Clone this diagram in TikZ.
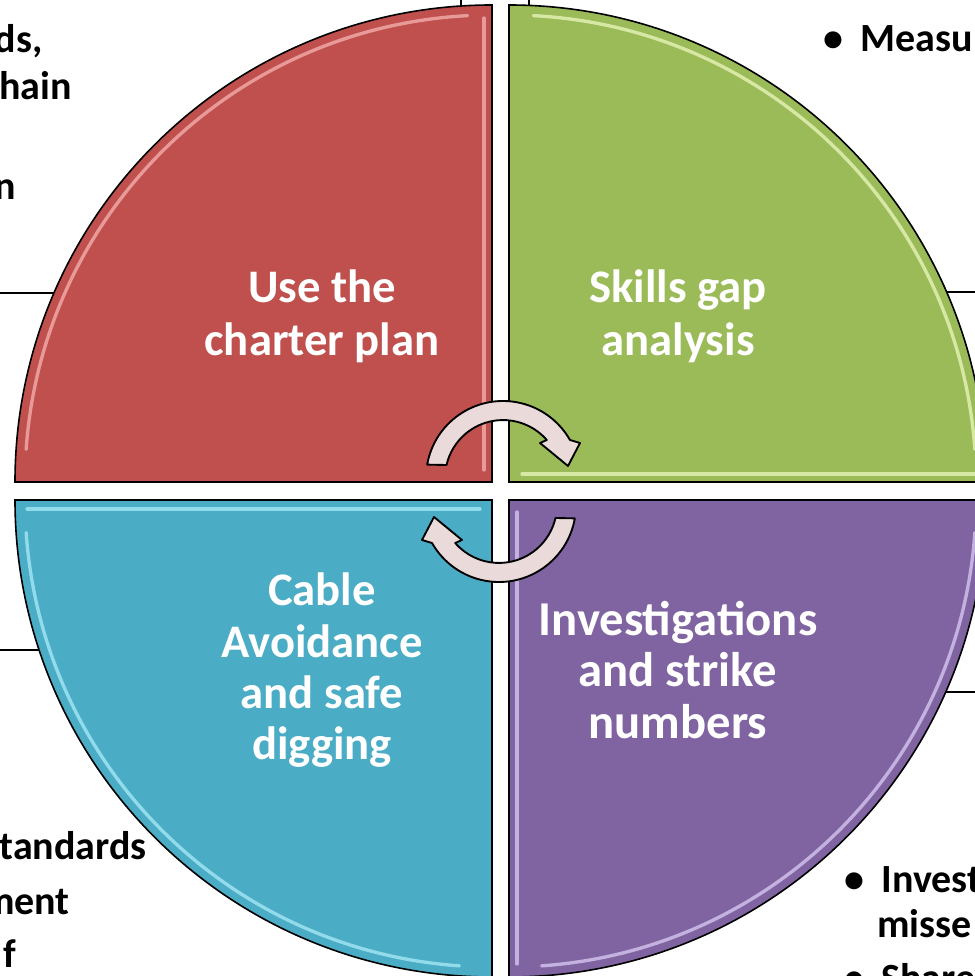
\documentclass[tikz,border=0pt]{standalone}
\usepackage{fontspec}
\setmainfont{Carlito}
\definecolor{charterred}{HTML}{C0504D}
\definecolor{skillsgreen}{HTML}{9BBB59}
\definecolor{cableblue}{HTML}{4BACC6}
\definecolor{strikepurple}{HTML}{8064A2}
\definecolor{arrowpink}{HTML}{EBDADA}
\tikzset{
	quadrant/.style={draw=black, line width=1.2},
	glint/.style={line width=2.5, line cap=round, opacity=0.75},
	qlabel/.style={text=white, align=center, anchor=base, inner sep=0, font=\fontsize{35}{#1}\selectfont\bfseries},
	notebox/.style={draw=black, fill=white, line width=0.9},
	note/.style={inner sep=0, font=\fontsize{30}{36}\selectfont\bfseries},
	cyclearrow/.style={draw=black, line width=1.4, fill=arrowpink, line join=round}
}
\begin{document}
\begin{tikzpicture}[x=0.75pt, y=0.75pt]
	\useasboundingbox (0,0) rectangle (975,976);
	\draw[notebox] (-20,683) rectangle (461,996);
	\draw[notebox] (529,684) rectangle (995,996);
	\draw[notebox] (-20,-20) rectangle (461,326);
	\draw[notebox] (529,-20) rectangle (995,284);
	\node(regulations)	[note, anchor=base east] at (43,923)	{ds,};
	\node(supplychain)	[note, anchor=base east] at (72,876)	{hain};
	\node(induction)	[note, anchor=base east] at (16,776)	{n};
	\node(measures)		[note, anchor=base west] at (823,924)	{•\hspace{13pt}Measu};
	\node(standards)	[note, anchor=base east] at (147,116)	{tandards};
	\node(management)	[note, anchor=base east] at (70,61)		{ment};
	\node(staff)		[note, anchor=base east] at (16,8)		{f};
	\node(investigate)	[note, anchor=base west] at (844,84)	{•\hspace{13pt}Invest};
	\node(missed)		[note, anchor=base west] at (877,38)	{misse};
	\node(share)		[note, anchor=base west] at (844,-16)	{•\hspace{13pt}Share};
	\draw[quadrant, fill=charterred] (492,494) -- (15,494) arc[start angle=180, end angle=90, radius=477] -- cycle;
	\draw[quadrant, fill=skillsgreen] (509,494) -- (509,971) arc[start angle=90, end angle=0, radius=477] -- cycle;
	\draw[quadrant, fill=cableblue] (492,476) -- (492,-1) arc[start angle=270, end angle=180, radius=477] -- cycle;
	\draw[quadrant, fill=strikepurple] (509,476) -- (986,476) arc[start angle=0, end angle=-90, radius=477] -- cycle;
	\draw[glint, draw={rgb,255:red,245;green,180;blue,178}] (492,494) ++(176:467) arc[start angle=176, end angle=93, radius=467];
	\draw[glint, draw={rgb,255:red,245;green,180;blue,178}] (484,958) -- (484,506);
	\draw[glint, draw={rgb,255:red,235;green,248;blue,190}] (509,494) ++(87:467) arc[start angle=87, end angle=4, radius=467];
	\draw[glint, draw={rgb,255:red,235;green,248;blue,190}] (522,502) -- (975,502);
	\draw[glint, draw={rgb,255:red,170;green,235;blue,248}] (27,467) -- (480,467);
	\draw[glint, draw={rgb,255:red,170;green,235;blue,248}] (492,476) ++(266:467) arc[start angle=266, end angle=184, radius=467];
	\draw[glint, draw={rgb,255:red,218;green,204;blue,245}] (517,464) -- (517,12);
	\draw[glint, draw={rgb,255:red,218;green,204;blue,245}] (509,476) ++(-4:467) arc[start angle=-4, end angle=-86, radius=467];
	\node(charter)		[qlabel=39.75pt] at (322,620)	{Use the\\charter plan};
	\node(skills)		[qlabel=39.75pt] at (678,620)	{Skills gap\\analysis};
	\node(cable)		[qlabel=38.6pt] at (322,216)	{Cable\\Avoidance\\and safe\\digging};
	\node(investigations)	[qlabel, font=\fontsize{36.5}{39}\selectfont\bfseries] at (678,237)	{Investigations\\and strike\\numbers};
	\draw[cyclearrow] (503,498) ++(170:77) arc[start angle=170, end angle=29.6, radius=77] -- (580,533) -- (568,510) -- (540,533) -- (546.8,536) arc[start angle=41, end angle=167, radius=58] -- cycle;
	\draw[cyclearrow, rotate around={180:(501,484.5)}] (503,498) ++(170:77) arc[start angle=170, end angle=29.6, radius=77] -- (580,533) -- (568,510) -- (540,533) -- (546.8,536) arc[start angle=41, end angle=167, radius=58] -- cycle;
\end{tikzpicture}
\end{document}
